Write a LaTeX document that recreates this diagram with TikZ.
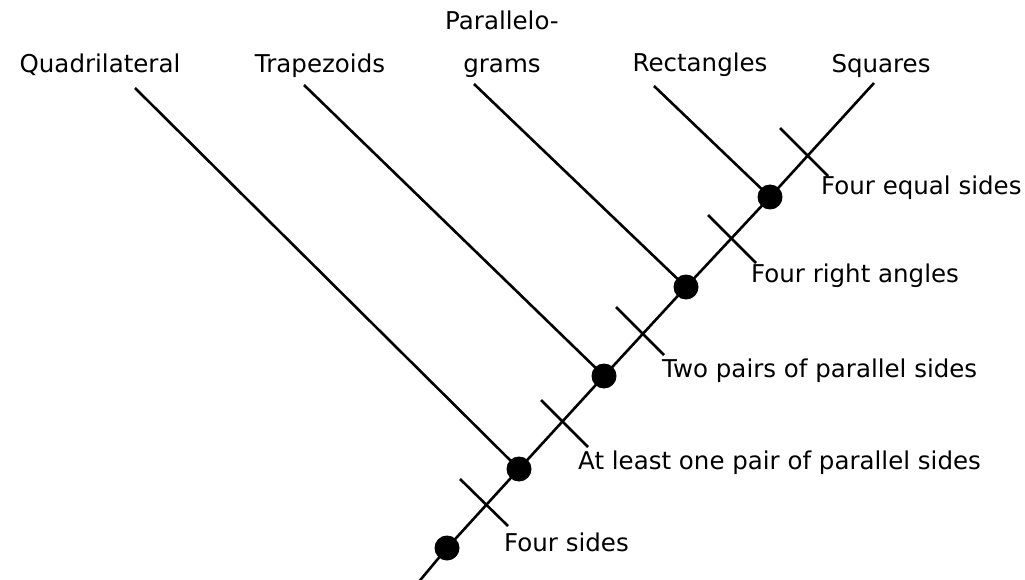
\documentclass[tikz,border=0pt]{standalone}
\usepackage{fontspec}
\setmainfont{DejaVu Sans}
\begin{document}
\begin{tikzpicture}[x=1pt,y=-1pt,
  lbl/.style={font=\fontsize{24.5}{30}\selectfont, inner sep=0pt},
  dotnode/.style={circle, fill=black, minimum size=25pt, inner sep=0pt},
  ln/.style={line width=2.6pt, black}]
\useasboundingbox (0,0) rectangle (1025,580);
% main line ends
\coordinate (bot) at (417,584);
\coordinate (top) at (874,83);
% dots
\node[dotnode] (d1) at (447,548) {};
\node[dotnode] (d2) at (519,469) {};
\node[dotnode] (d3) at (604,376) {};
\node[dotnode] (d4) at (686,287) {};
\node[dotnode] (d5) at (770,197) {};
% branch free ends
\coordinate (bq) at (135,88);
\coordinate (bt) at (304,85);
\coordinate (bp) at (474,84);
\coordinate (br) at (654,86);
% main line
\draw[ln] (bot) -- (d1.center) -- (d2.center) -- (d3.center) -- (d4.center) -- (d5.center) -- (top);
% branches
\draw[ln] (bq) -- (d2.center);
\draw[ln] (bt) -- (d3.center);
\draw[ln] (bp) -- (d4.center);
\draw[ln] (br) -- (d5.center);
% ticks
\coordinate (t1a) at (460,479); \coordinate (t1b) at (508,526);
\coordinate (t2a) at (541,400); \coordinate (t2b) at (588,447);
\coordinate (t3a) at (616,307); \coordinate (t3b) at (664,355);
\coordinate (t4a) at (708,215); \coordinate (t4b) at (756,263);
\coordinate (t5a) at (780,128); \coordinate (t5b) at (828,176);
\draw[ln] (t1a) -- (t1b);
\draw[ln] (t2a) -- (t2b);
\draw[ln] (t3a) -- (t3b);
\draw[ln] (t4a) -- (t4b);
\draw[ln] (t5a) -- (t5b);
% right labels
\node[lbl, anchor=base west] (l1) at (504,551) {Four sides};
\node[lbl, anchor=base west] (l2) at (578,469) {At least one pair of parallel sides};
\node[lbl, anchor=base west] (l3) at (662,377) {Two pairs of parallel sides};
\node[lbl, anchor=base west] (l4) at (751,282) {Four right angles};
\node[lbl, anchor=base west] (l5) at (821,195) {Four equal sides};
% top labels
\node[lbl, anchor=base] (q) at (100,73) {Quadrilateral};
\node[lbl, anchor=base] (tr) at (320,73) {Trapezoids};
\node[lbl, anchor=base] (pa) at (502,30) {Parallelo-};
\node[lbl, anchor=base] (pb) at (502,73) {grams};
\node[lbl, anchor=base] (re) at (700,72) {Rectangles};
\node[lbl, anchor=base] (sq) at (881,73) {Squares};
\end{tikzpicture}
\end{document}
